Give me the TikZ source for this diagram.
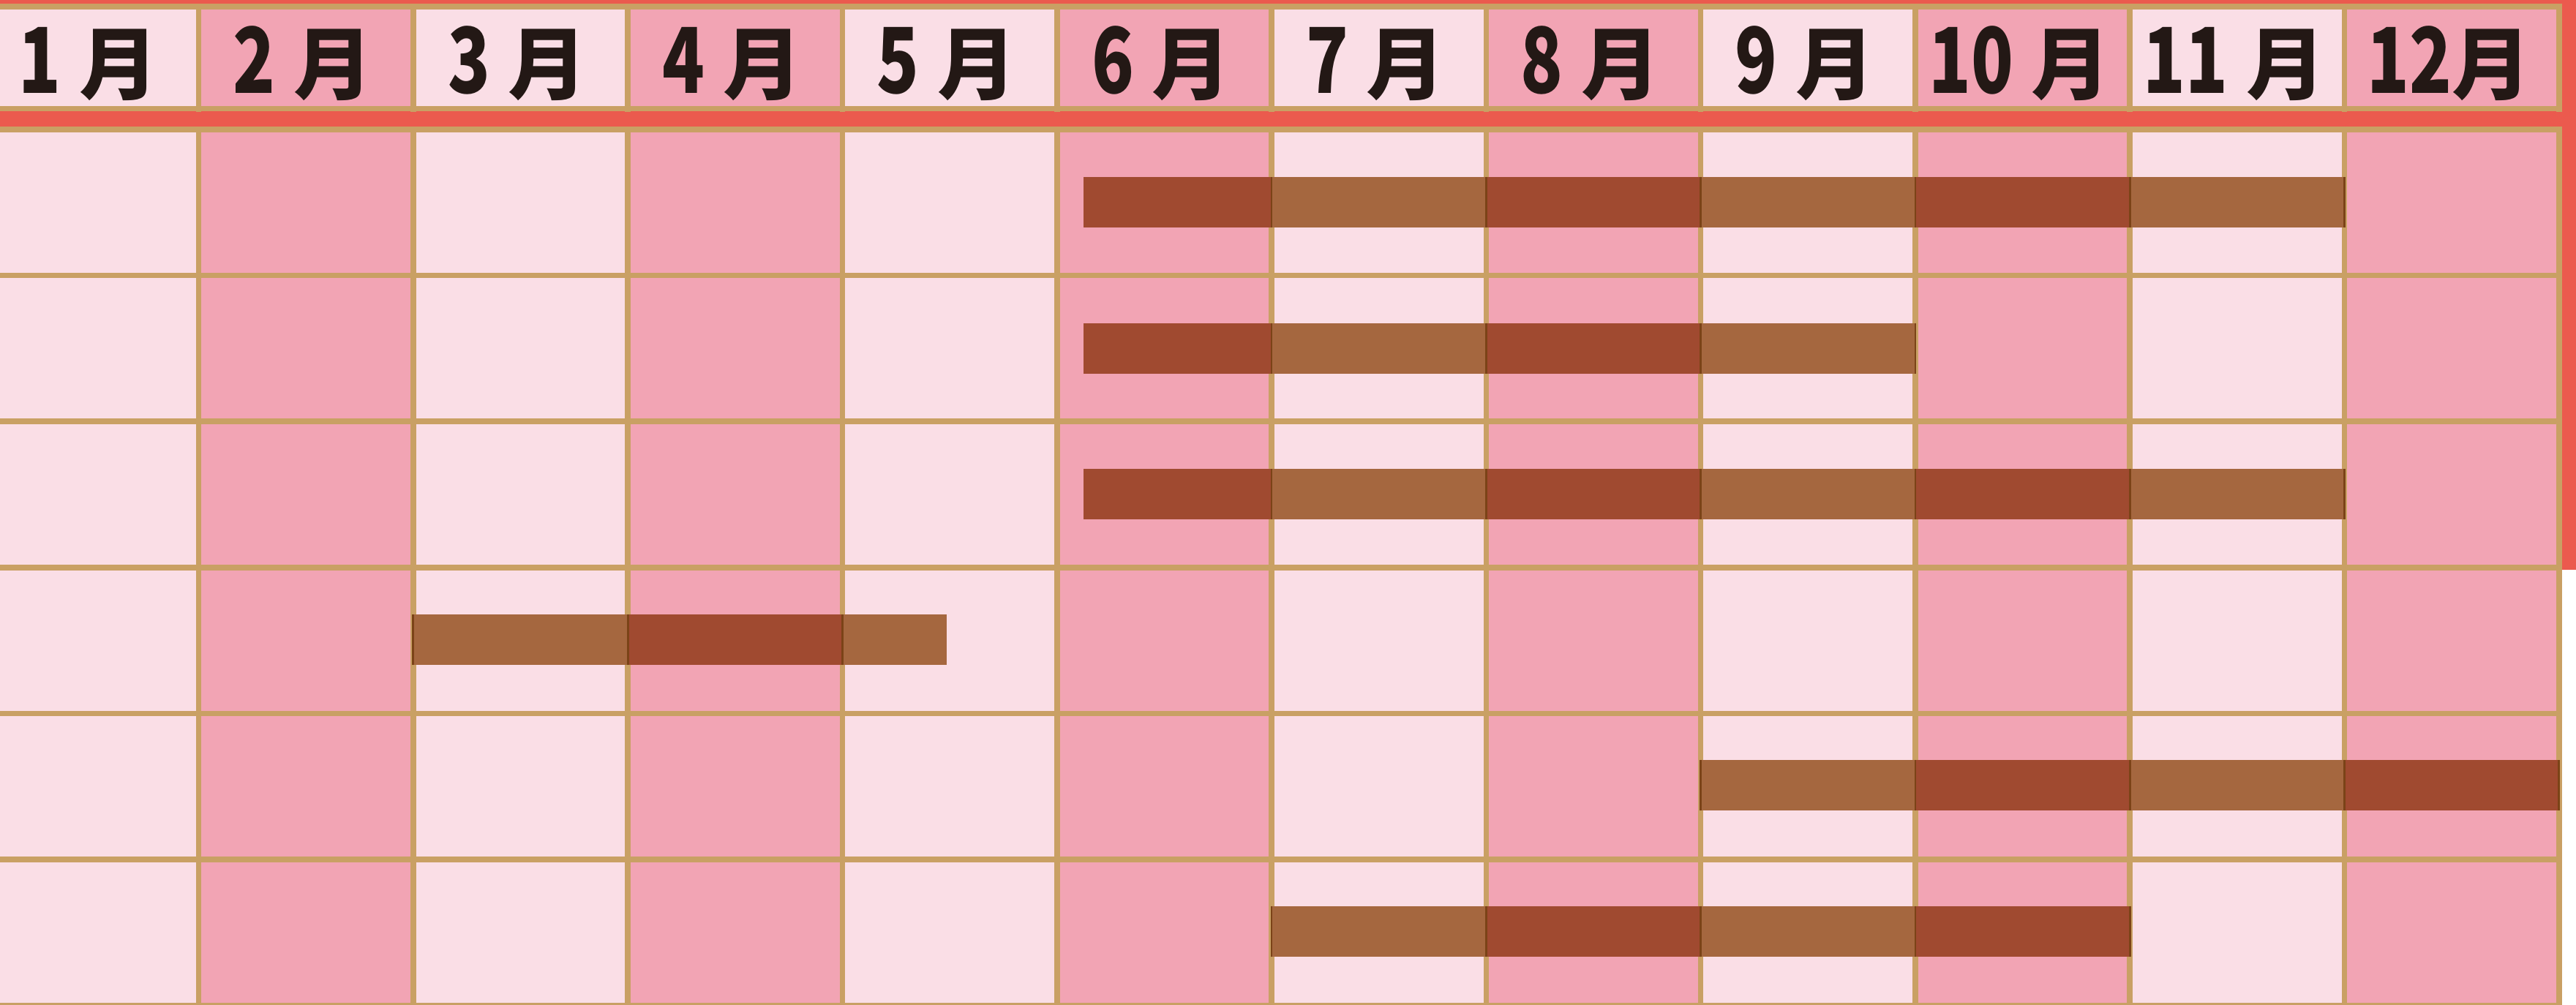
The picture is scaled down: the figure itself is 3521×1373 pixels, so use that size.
\documentclass[tikz,border=0pt]{standalone}
\usepackage{fontspec}
\newfontfamily\jpfont{Noto Sans CJK JP}
\definecolor{lightpink}{HTML}{FADEE6}
\definecolor{darkpink}{HTML}{F2A4B4}
\definecolor{tanline}{HTML}{C9A064}
\definecolor{redband}{HTML}{EB5A4E}
\definecolor{barlight}{HTML}{A5673F}
\definecolor{bardark}{HTML}{A04A30}
\definecolor{bardiv}{HTML}{7B4317}
\definecolor{textblack}{HTML}{231815}
\newcommand\mdig[1]{\scalebox{0.88}[1.15]{#1}}
\newcommand\ganttbar[3]{%
  \foreach \k in {1,...,12} {
    \pgfmathsetmacro\xl{max(271.5+293.3*(\k-2),#2)}
    \pgfmathsetmacro\xr{min(271.5+293.3*(\k-1),#3)}
    \pgfmathtruncatemacro\odd{mod(\k,2)}
    \ifdim\xl pt<\xr pt
      \ifnum\odd=1 \def\cc{barlight}\else\def\cc{bardark}\fi
      \fill[fill=\cc] (\xl,#1-34.5) rectangle (\xr,#1+34.5);
    \fi
  }
  \foreach \k in {1,...,12} {
    \pgfmathsetmacro\xx{271.5+293.3*(\k-1)}
    \pgfmathtruncatemacro\inside{and(\xx>=#2-2,\xx<=#3+2)}
    \ifnum\inside=1
      \draw[divline] (\xx,#1-34.5) -- (\xx,#1+34.5);
    \fi
  }
}
\begin{document}
\begin{tikzpicture}[x=0.25pt,y=-0.25pt,
  gridline/.style={draw=tanline,line width=1.9pt},
  divline/.style={draw=bardiv,line width=0.7pt},
  month/.style={font=\jpfont\bfseries\fontsize{27}{30}\selectfont,text=textblack,anchor=base,inner sep=0pt}]
\useasboundingbox (0,0) rectangle (3521,1373);
\clip (0,0) rectangle (3521,1373);
\fill[white] (0,0) rectangle (3521,1373);
% red background
\fill[redband] (-10,0) rectangle (3521,779);
% cells
\foreach \k in {1,...,12} {
  \pgfmathsetmacro\xl{271.5+293.3*(\k-2)}
  \pgfmathsetmacro\xr{271.5+293.3*(\k-1)}
  \pgfmathtruncatemacro\odd{mod(\k,2)}
  \ifnum\odd=1 \def\cc{lightpink}\else\def\cc{darkpink}\fi
  \fill[fill=\cc] (\xl,9) rectangle (\xr,148.5);
  \fill[fill=\cc] (\xl,177) rectangle (\xr,1390);
}
% header grid
\draw[gridline] (-10,9) -- (3501.6,9);
\draw[gridline] (-10,148.5) -- (3501.6,148.5);
% body grid
\foreach \r in {0,...,6} {
  \pgfmathsetmacro\yy{177+199.6*\r}
  \draw[gridline] (-10,\yy) -- (3501.6,\yy);
}
\foreach \k in {1,...,12} {
  \pgfmathsetmacro\xx{271.5+293.3*(\k-1)}
  \draw[gridline] (\xx,5) -- (\xx,152.5);
  \draw[gridline] (\xx,173) -- (\xx,1390);
}
% month labels
\foreach \k/\t in {1/{\mdig{1} 月},2/{\mdig{2} 月},3/{\mdig{3} 月},4/{\mdig{4} 月},5/{\mdig{5} 月},6/{\mdig{6} 月},7/{\mdig{7} 月},8/{\mdig{8} 月},9/{\mdig{9} 月},10/{\mdig{10} 月},11/{\mdig{11} 月},12/{\mdig{12}月}} {
  \pgfmathsetmacro\cx{124.8+293.3*(\k-1)-4}
  \node[month] (m\k) at (\cx,127) {\t};
}
% bars
\ganttbar{276.7}{1481}{3204.5}
\ganttbar{476}{1481}{2617.9}
\ganttbar{675.3}{1481}{3204.5}
\ganttbar{874.6}{564.8}{1294}
\ganttbar{1073.9}{2324.6}{3497.8}
\ganttbar{1273.2}{1738}{2911.2}
\end{tikzpicture}
\end{document}
